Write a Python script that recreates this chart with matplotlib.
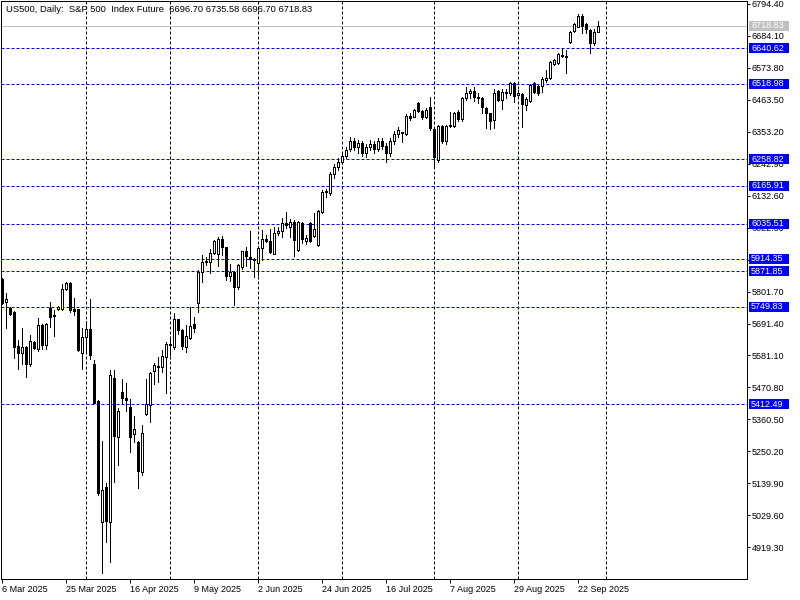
import matplotlib
matplotlib.use('Agg')
import matplotlib.pyplot as plt
from matplotlib.patches import Rectangle

# ---------------- data (daily OHLC) ----------------
opens = [5845, 5767, 5746, 5731, 5614, 5591, 5610, 5552, 5627, 5602,
         5686, 5617, 5744, 5721, 5742, 5742, 5809, 5830, 5741, 5741,
         5589, 5644, 5672, 5552, 5424, 5006, 5126, 5006, 5502, 5299,
         5454, 5434, 5402, 5309, 5284, 5180, 5379, 5410, 5529, 5545,
         5542, 5577, 5616, 5609, 5706, 5669, 5609, 5643, 5689, 5761,
         5870, 5904, 5905, 5936, 5931, 5982, 5954, 5856, 5870, 5818,
         5887, 5942, 5922, 5915, 5901, 5951, 5982, 5976, 5931, 6005,
         6012, 6039, 6023, 6043, 5945, 6037, 5977, 6039, 5993, 5962,
         6077, 6144, 6143, 6207, 6230, 6248, 6270, 6292, 6320, 6300,
         6315, 6280, 6300, 6310, 6295, 6320, 6305, 6280, 6320, 6345,
         6348, 6345, 6407, 6405, 6453, 6426, 6405, 6437, 6362, 6256,
         6373, 6321, 6372, 6373, 6422, 6396, 6468, 6486, 6494, 6472,
         6468, 6434, 6417, 6394, 6495, 6463, 6489, 6486, 6520, 6480,
         6483, 6445, 6460, 6520, 6511, 6511, 6532, 6537, 6587, 6589,
         6614, 6614, 6664, 6702, 6715, 6752, 6724, 6704, 6660, 6696.70]
highs = [5849, 5796, 5749, 5733, 5635, 5676, 5614, 5652, 5630, 5710,
         5688, 5693, 5767, 5738, 5751, 5828, 5836, 5834, 5778, 5743,
         5675, 5701, 5776, 5566, 5428, 5286, 5140, 5531, 5531, 5399,
         5499, 5485, 5430, 5372, 5286, 5341, 5500, 5525, 5556, 5577,
         5600, 5629, 5644, 5729, 5708, 5671, 5686, 5749, 5715, 5876,
         5928, 5920, 5948, 5980, 5989, 5993, 5956, 5897, 5872, 5897,
         5943, 5956, 6011, 5917, 5959, 6014, 5997, 6016, 6025, 6025,
         6054, 6075, 6051, 6049, 6046, 6041, 5997, 6041, 6072, 6083,
         6152, 6155, 6215, 6240, 6262, 6278, 6300, 6335, 6330, 6325,
         6320, 6310, 6325, 6320, 6330, 6330, 6315, 6330, 6355, 6370,
         6353, 6413, 6417, 6430, 6457, 6428, 6434, 6472, 6365, 6376,
         6376, 6376, 6422, 6422, 6428, 6474, 6506, 6500, 6508, 6486,
         6472, 6440, 6419, 6500, 6497, 6500, 6500, 6526, 6526, 6497,
         6486, 6472, 6518, 6525, 6515, 6541, 6566, 6598, 6603, 6626,
         6641, 6635, 6701, 6729, 6759, 6759, 6729, 6707, 6706, 6735.58]
lows = [5757, 5675, 5721, 5572, 5535, 5552, 5508, 5545, 5603, 5598,
        5602, 5602, 5680, 5648, 5738, 5738, 5807, 5730, 5721, 5598,
        5533, 5589, 5568, 5416, 5100, 4830, 4939, 4870, 5146, 5203,
        5414, 5391, 5249, 5284, 5125, 5169, 5376, 5353, 5483, 5491,
        5525, 5453, 5583, 5602, 5655, 5602, 5594, 5637, 5663, 5732,
        5836, 5893, 5867, 5931, 5890, 5928, 5842, 5839, 5755, 5809,
        5878, 5890, 5882, 5853, 5859, 5911, 5974, 5934, 5930, 5997,
        5991, 6020, 5989, 5924, 5942, 5970, 5966, 5974, 5989, 5960,
        6074, 6129, 6135, 6195, 6222, 6240, 6262, 6285, 6290, 6280,
        6270, 6265, 6290, 6280, 6285, 6295, 6250, 6270, 6310, 6335,
        6319, 6342, 6394, 6403, 6422, 6396, 6399, 6359, 6232, 6250,
        6313, 6311, 6370, 6368, 6391, 6391, 6463, 6468, 6460, 6453,
        6419, 6365, 6362, 6365, 6459, 6430, 6468, 6480, 6457, 6470,
        6370, 6428, 6457, 6488, 6480, 6491, 6526, 6534, 6583, 6587,
        6610, 6555, 6660, 6698, 6713, 6695, 6695, 6626, 6652, 6696.70]
closes = [5761, 5776, 5724, 5611, 5591, 5610, 5552, 5631, 5606, 5686,
          5617, 5689, 5715, 5716, 5747, 5809, 5830, 5738, 5736, 5600,
          5644, 5672, 5584, 5418, 5108, 5117, 5011, 5514, 5304, 5391,
          5433, 5428, 5299, 5326, 5184, 5313, 5413, 5520, 5548, 5541,
          5580, 5621, 5620, 5706, 5669, 5614, 5648, 5684, 5677, 5868,
          5905, 5907, 5934, 5976, 5982, 5954, 5856, 5868, 5816, 5892,
          5942, 5924, 5915, 5911, 5951, 5982, 5977, 5939, 6005, 6012,
          6039, 6031, 6043, 5980, 6043, 5983, 5985, 5977, 6016, 6080,
          6144, 6149, 6207, 6230, 6250, 6270, 6290, 6320, 6300, 6315,
          6280, 6300, 6310, 6295, 6320, 6305, 6280, 6320, 6345, 6360,
          6351, 6407, 6399, 6428, 6426, 6403, 6428, 6365, 6265, 6373,
          6321, 6374, 6376, 6419, 6396, 6468, 6486, 6494, 6472, 6469,
          6437, 6417, 6391, 6486, 6463, 6489, 6486, 6520, 6476, 6485,
          6449, 6465, 6514, 6491, 6486, 6534, 6537, 6593, 6601, 6620,
          6618, 6610, 6698, 6725, 6752, 6718, 6706, 6660, 6698, 6718.83]

date_labels = ['6 Mar 2025', '25 Mar 2025', '16 Apr 2025', '9 May 2025', '2 Jun 2025',
               '24 Jun 2025', '16 Jul 2025', '7 Aug 2025', '29 Aug 2025', '22 Sep 2025']
date_label_bars = [0, 16, 32, 48, 64, 80, 96, 112, 128, 144]
price_ticks = [6794.40, 6684.10, 6573.80, 6463.50, 6353.20, 6242.90, 6132.60, 6022.30,
               5912.00, 5801.70, 5691.40, 5581.10, 5470.80, 5360.50, 5250.20, 5139.90,
               5029.60, 4919.30]
levels = [6640.62, 6518.98, 6258.82, 6165.91, 6035.51, 5914.35, 5871.85, 5749.83, 5412.49]
last_price = 6718.83
grid_bars = [21, 42, 64, 85, 108, 129, 151]
title = "US500, Daily:  S&P 500  Index Future  6696.70 6735.58 6696.70 6718.83"

# ---------------- layout ----------------
FONT = 'Liberation Sans'
W, H = 800, 600
L, R, T, B = 1, 747, 1, 579          # plot frame in pixels
fig = plt.figure(figsize=(W / 100, H / 100), dpi=100, facecolor='white')
ax = fig.add_axes([L / W, 1 - B / H, (R - L) / W, (B - T) / H])
ax.set_facecolor('white')
ax.set_xlim(-0.325, 186.175)
ax.set_ylim(4809.9, 6804.1)

PX = 0.72  # one pixel in points

# grid (vertical dashed)
for g in grid_bars:
    ax.axvline(g, color='black', lw=PX, dashes=(3, 2), zorder=1)

# horizontal levels
for lv in levels:
    ax.axhline(lv, color='#0000ff', lw=PX, dashes=(3, 2), zorder=1)
ax.axhline(last_price, color='#c0c0c0', lw=PX, zorder=1)

# candles
n = len(opens)
xs = list(range(n))
ax.vlines(xs, lows, highs, color='black', lw=PX, zorder=2, antialiased=False)
bottoms = [min(o, c) for o, c in zip(opens, closes)]
heights = [max(abs(c - o), 0.5) for o, c in zip(opens, closes)]
faces = ['white' if c >= o else 'black' for o, c in zip(opens, closes)]
ax.bar(xs, heights, bottom=bottoms, width=0.5, color=faces, edgecolor='black',
       linewidth=PX, zorder=3, antialiased=False)

# axes styling
for s in ax.spines.values():
    s.set_linewidth(PX)
    s.set_color('black')
ax.yaxis.tick_right()
ax.set_yticks(price_ticks)
ax.set_yticklabels([f'{p:.2f}' for p in price_ticks], fontsize=6.5, family=FONT)
ax.tick_params(axis='y', direction='out', length=2.5, width=PX, pad=1, colors='black')
ax.set_xticks(date_label_bars)
ax.set_xticklabels(date_labels, fontsize=6.5, family=FONT, ha='left')
ax.tick_params(axis='x', direction='out', length=3, width=PX, pad=1, colors='black')

# price label boxes on the right axis
ytr = ax.get_yaxis_transform()
px_per_price = (B - T) / (6804.1 - 4809.9)
half_h = 5 / px_per_price
bx0 = (749 - L) / (R - L)
bw = 40 / (R - L)
for lv in levels:
    ax.add_patch(Rectangle((bx0, lv - half_h), bw, 2 * half_h, transform=ytr,
                           facecolor='#0000ff', edgecolor='none', clip_on=False, zorder=10))
    ax.text(bx0 + 2 / (R - L), lv, f'{lv:.2f}', transform=ytr, color='white',
            fontsize=6.5, family=FONT, va='center', ha='left', clip_on=False, zorder=11)
ax.add_patch(Rectangle((bx0, last_price - half_h), bw, 2 * half_h, transform=ytr,
                       facecolor='#c0c0c0', edgecolor='none', clip_on=False, zorder=10))
ax.text(bx0 + 2 / (R - L), last_price, f'{last_price:.2f}', transform=ytr, color='white',
        fontsize=6.5, family=FONT, va='center', ha='left', clip_on=False, zorder=11)

fig.text(6 / W, 1 - 10 / H, title, fontsize=6.75, family=FONT, va='center', ha='left',
         color='black')

fig.savefig('out.png', dpi=100, facecolor='white')
